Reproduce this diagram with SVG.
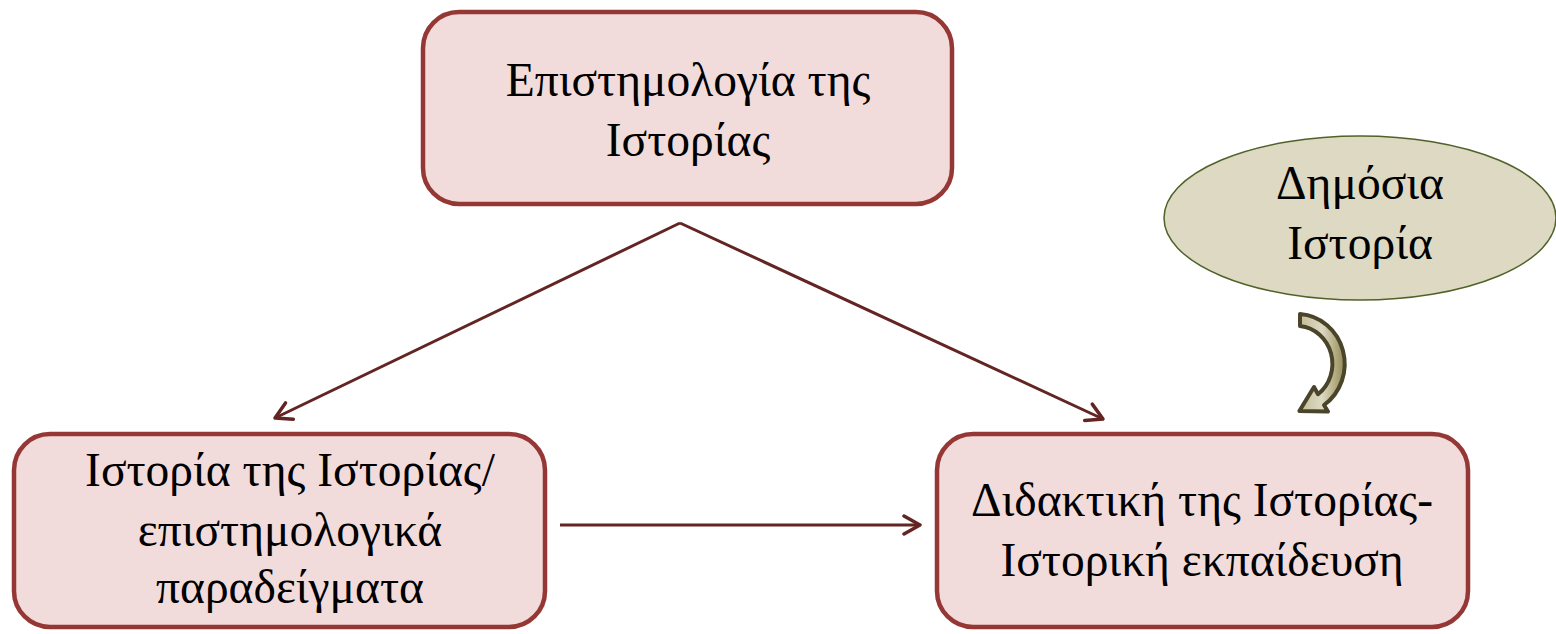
<svg xmlns="http://www.w3.org/2000/svg" width="1556" height="634" viewBox="0 0 1556 634">
<style>
.box{fill:#F2DCDB;stroke:#953735;stroke-width:4.5}
.ell{fill:#DDD9C3;stroke:#4F6228;stroke-width:1.5}
.t{font-family:"Liberation Serif","Times New Roman",serif;font-size:47.5px;fill:#000;text-anchor:middle}
.con{stroke:#632523;stroke-width:3;fill:none;marker-end:url(#ah)}
</style>
<defs>
<marker id="ah" viewBox="0 0 22 22" refX="20" refY="11" markerWidth="22" markerHeight="22" markerUnits="userSpaceOnUse" orient="auto">
<path d="M4,2 L20,11 L4,20" fill="none" stroke="#632523" stroke-width="3.5" stroke-linecap="round" stroke-linejoin="round"/>
</marker>
<linearGradient id="cg" x1="0" y1="0" x2="1" y2="0">
<stop offset="0" stop-color="#C4BD97"/>
<stop offset="0.5" stop-color="#DDD9C3"/>
<stop offset="1" stop-color="#948A54"/>
</linearGradient>
</defs>
<g id="connectors">
<line class="con" x1="680" y1="223" x2="275" y2="418"/>
<line class="con" x1="680" y1="223" x2="1103" y2="419"/>
<line class="con" x1="560" y1="525" x2="920" y2="525"/>
<path id="curved-arrow" d="M1300,314 A48,50 0 0 1 1324,405 L1328,411.5 L1299.4,411 L1314,387 L1318,394.2 A36,38 0 0 0 1300,326 Z" fill="url(#cg)" stroke="#4A452A" stroke-width="4" stroke-linejoin="round"/>
</g>
<g id="node-top">
<rect class="box" x="423" y="12" width="529" height="192" rx="36"/>
<text class="t" x="688" y="96">Επιστημολογία της</text>
<text class="t" x="688" y="156">Ιστορίας</text>
</g>
<g id="node-left">
<rect class="box" x="14" y="434" width="531" height="193" rx="36"/>
<text class="t" x="290" y="486">Ιστορία της Ιστορίας/</text>
<text class="t" x="290" y="546">επιστημολογικά</text>
<text class="t" x="290" y="603">παραδείγματα</text>
</g>
<g id="node-right">
<rect class="box" x="937" y="434" width="531" height="193" rx="36"/>
<text class="t" x="1202" y="516">Διδακτική της Ιστορίας-</text>
<text class="t" x="1202" y="576">Ιστορική εκπαίδευση</text>
</g>
<g id="node-public">
<ellipse class="ell" cx="1360" cy="218" rx="196" ry="82"/>
<text class="t" x="1360" y="199">Δημόσια</text>
<text class="t" x="1360" y="259">Ιστορία</text>
</g>
</svg>
